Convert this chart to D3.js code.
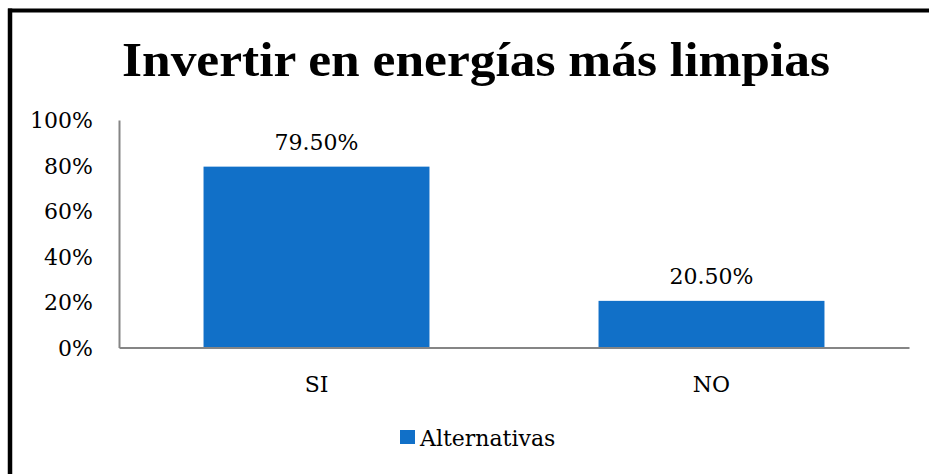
<!DOCTYPE html>
<html>
<head>
<meta charset="utf-8">
<script src="https://cdn.jsdelivr.net/npm/d3@7"></script>
<style>
  html, body { margin: 0; padding: 0; background: #fff; overflow: hidden; }
  svg { display: block; }
</style>
</head>
<body>
<div id="chart"></div>
<script>
const categories = ['SI', 'NO']
const values = [79.5, 20.5]
const yTicks = [0, 20, 40, 60, 80, 100]
const seriesName = 'Alternativas'
const title = 'Invertir en energías más limpias'

const width = 929
const height = 474
const plot = { left: 119, right: 909, top: 120, bottom: 347.5 }
const barColor = '#1170c8'
const axisColor = '#858585'
const font = '"DejaVu Serif", serif'

const svg = d3.select('#chart').append('svg')
  .attr('width', width)
  .attr('height', height)

// white page
svg.append('rect')
  .attr('width', width)
  .attr('height', height)
  .attr('fill', '#fff')

// outer frame: only the top and left edges fall inside the picture
svg.append('line')
  .attr('x1', 10).attr('x2', 10)
  .attr('y1', 8.5).attr('y2', height)
  .attr('stroke', '#000')
  .attr('stroke-width', 4.5)
svg.append('line')
  .attr('x1', 8).attr('x2', width)
  .attr('y1', 10.5).attr('y2', 10.5)
  .attr('stroke', '#000')
  .attr('stroke-width', 4)

svg.append('text')
  .attr('x', 122)
  .attr('y', 76)
  .attr('font-family', '"Liberation Serif", serif')
  .attr('font-weight', 'bold')
  .attr('font-size', 48)
  .attr('textLength', 708)
  .attr('lengthAdjust', 'spacingAndGlyphs')
  .attr('fill', '#000')
  .text(title)

const x = d3.scaleBand()
  .domain(categories)
  .range([plot.left, plot.right])
  .paddingInner(0.428)
  .paddingOuter(0.214)

const y = d3.scaleLinear()
  .domain([0, 100])
  .range([plot.bottom, plot.top])

// bars
svg.append('g')
  .selectAll('rect')
  .data(values)
  .enter().append('rect')
  .attr('x', (d, i) => x(categories[i]))
  .attr('y', d => y(d))
  .attr('width', x.bandwidth())
  .attr('height', d => y(0) - y(d))
  .attr('fill', barColor)

// value labels
svg.append('g')
  .selectAll('text')
  .data(values)
  .enter().append('text')
  .attr('x', (d, i) => x(categories[i]) + x.bandwidth() / 2)
  .attr('y', d => y(d) - 17)
  .attr('text-anchor', 'middle')
  .attr('font-family', font)
  .attr('font-size', 22)
  .attr('fill', '#000')
  .text(d => d.toFixed(2) + '%')

// y axis
const yAxis = svg.append('g')
  .attr('transform', `translate(${plot.left},0)`)
  .call(d3.axisLeft(y).tickValues(yTicks).tickSize(0).tickPadding(26).tickFormat(d => d + '%'))
yAxis.select('.domain').attr('stroke', axisColor).attr('stroke-width', 2)
yAxis.selectAll('text')
  .attr('font-family', font)
  .attr('font-size', 22)
  .attr('fill', '#000')
  .attr('dy', '0.35em')

// x axis
const xAxis = svg.append('g')
  .attr('transform', `translate(0,${plot.bottom})`)
  .call(d3.axisBottom(x).tickSize(0).tickPadding(29))
xAxis.select('.domain').attr('stroke', axisColor).attr('stroke-width', 2)
xAxis.selectAll('text')
  .attr('font-family', font)
  .attr('font-size', 22)
  .attr('fill', '#000')

// legend
const legend = svg.append('g').attr('transform', 'translate(400,430)')
legend.append('rect')
  .attr('width', 15)
  .attr('height', 14)
  .attr('fill', barColor)
legend.append('text')
  .attr('x', 20)
  .attr('y', 16)
  .attr('font-family', font)
  .attr('font-size', 22)
  .attr('fill', '#000')
  .text(seriesName)
</script>
</body>
</html>
